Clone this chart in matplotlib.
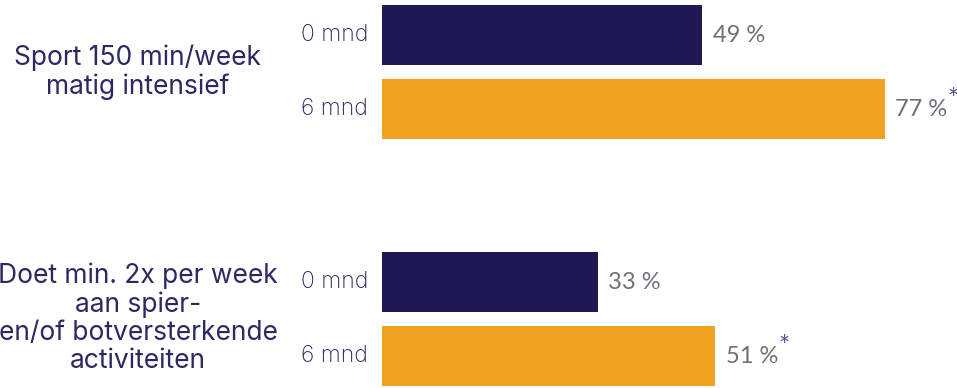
import matplotlib.pyplot as plt

# Groups, time points and percentages per bar
groups = ["Sport 150 min/week\nmatig intensief",
          "Doet min. 2x per week\naan spier-\nen/of botversterkende\nactiviteiten"]
timepoints = ["0 mnd", "6 mnd"]
values = [[49, 77], [33, 51]]
significant = [[False, True], [False, True]]

NAVY = "#1e1955"
ORANGE = "#f0a221"
LABEL_COL = "#2b2862"
VALUE_COL = "#6d7176"
STAR_COL = "#5a4f8f"

fig = plt.figure(figsize=(9.57, 3.88), dpi=100)
W, H = 957, 388
left = 382
ax = fig.add_axes([left / W, 0, (W - left) / W, 1])
ax.set_xlim(0, (W - left) / (503 / 77))
ax.set_ylim(H, 0)
ax.axis("off")

group_top = [35, 281.5]
step = 74
bar_h = 60
colors = [NAVY, ORANGE]

for g, name in enumerate(groups):
    ys = [group_top[g] + k * step for k in range(len(timepoints))]
    for k, tp in enumerate(timepoints):
        v = values[g][k]
        ax.barh(ys[k], v, height=bar_h, color=colors[k], linewidth=0)
        ax.text(-2.1, ys[k], tp, ha="right", va="center", fontsize=16.5,
                family="Inter", fontweight="light", color=LABEL_COL)
        t = ax.text(v + 1.6, ys[k] + 1, f"{v} %", ha="left", va="center",
                    fontsize=17, family="Lato", color=VALUE_COL)
        if significant[g][k]:
            ax.annotate("*", xy=(1, 0.95), xycoords=t, ha="left", va="center",
                        fontsize=19, family="Lato", color=STAR_COL)
    # group title on the left, centred on its pair of bars
    fig.text(138 / W, 1 - (sum(ys) / 2) / H, name, ha="center", va="center",
             fontsize=19, family="Inter", color=LABEL_COL, linespacing=1.1)

fig.savefig("out.png", dpi=100)
